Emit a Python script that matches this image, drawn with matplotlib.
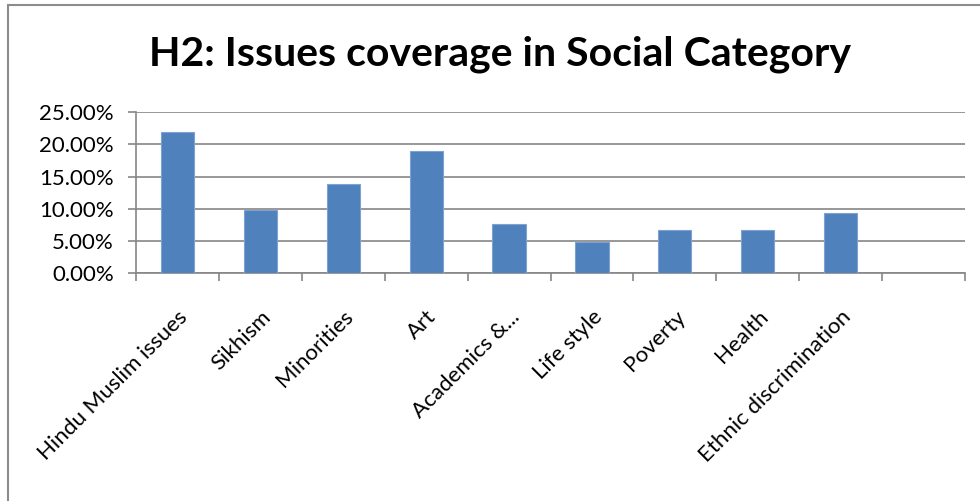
import matplotlib.pyplot as plt
from matplotlib.patches import Rectangle
from matplotlib.ticker import PercentFormatter

# Data
categories = ['Hindu Muslim issues', 'Sikhism', 'Minorities', 'Art', 'Academics &...',
              'Life style', 'Poverty', 'Health', 'Ethnic discrimination', '']
values = [21.9, 9.75, 13.9, 19.0, 7.7, 4.8, 6.75, 6.65, 9.4, 0.0]
yticks = [0, 5, 10, 15, 20, 25]

plt.rcParams['font.family'] = ['Lato', 'DejaVu Sans']

fig = plt.figure(figsize=(9.8, 5.01), dpi=100)
ax = fig.add_axes([136 / 980, 1 - 273.3 / 501, (965 - 136) / 980, (273.3 - 112) / 501])

x = list(range(len(categories)))
ax.bar(x[:-1], values[:-1], width=0.4, color='#4F81BD', edgecolor='#7FA3D0', linewidth=0.8, zorder=3)

ax.set_xlim(-0.5, len(categories) - 0.5)
ax.set_ylim(0, 25)
ax.set_yticks(yticks)
ax.yaxis.set_major_formatter(PercentFormatter(decimals=2))
ax.grid(axis='y', color='#868686', linewidth=1.2, zorder=0)

# category boundaries as ticks, labels at centers
ax.set_xticks([i - 0.5 for i in range(len(categories) + 1)])
ax.set_xticklabels([])
ax.set_xticks(x, minor=True)
ax.set_xticklabels(categories, minor=True, rotation=45, ha='right', rotation_mode='anchor', fontsize=16)
ax.tick_params(axis='x', which='minor', length=0, pad=24)
ax.tick_params(axis='x', which='major', length=6, color='#868686', width=1.2)
ax.tick_params(axis='y', length=6, color='#868686', width=1.2, labelsize=16, pad=10)

for side in ['top', 'right']:
    ax.spines[side].set_visible(False)
ax.spines['left'].set_color('#868686')
ax.spines['bottom'].set_color('#868686')
ax.spines['left'].set_linewidth(1.2)
ax.spines['bottom'].set_linewidth(1.2)

fig.text(500 / 980, 1 - 54 / 501, 'H2: Issues coverage in Social Category',
         ha='center', va='center', fontsize=29.5, fontweight='bold')

# chart frame
fig.patches.append(Rectangle((8 / 980, -0.1), 1.2, 1 - 5 / 501 + 0.1, transform=fig.transFigure,
                             fill=False, edgecolor='#8C8C8C', linewidth=1.5))

fig.savefig('out.png', dpi=100)
